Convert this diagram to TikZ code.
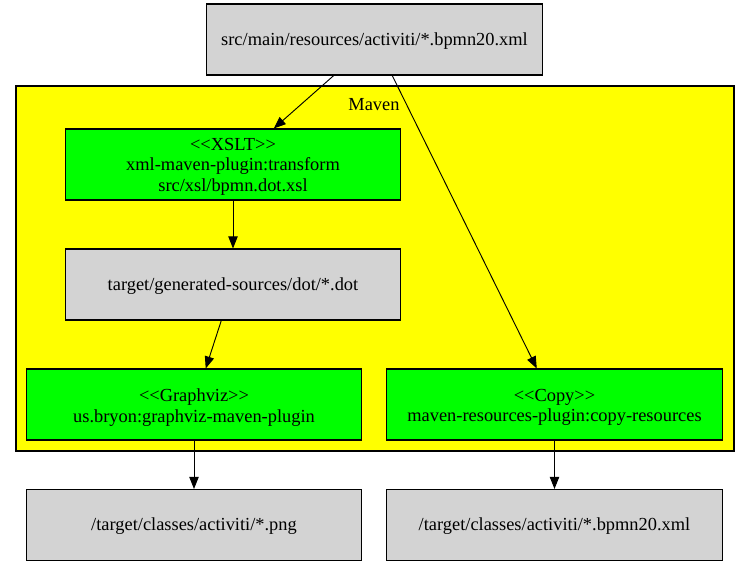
\documentclass[tikz,border=0pt]{standalone}
\usepackage{fontspec}
\setmainfont{Liberation Serif}
\usetikzlibrary{arrows.meta}
\definecolor{gvgray}{HTML}{D3D3D3}
\definecolor{gvgreen}{HTML}{00FF00}
\definecolor{gvyellow}{HTML}{FFFF00}
\begin{document}
\begin{tikzpicture}[x=0.75pt,y=-0.75pt,
  box/.style={draw=black, line width=0.8pt, rectangle, inner sep=0pt,
    minimum width=251.5pt, minimum height=53.25pt, align=center,
    font=\fontsize{13.8}{15.4}\selectfont},
  file/.style={box, fill=gvgray},
  plugin/.style={box, fill=gvgreen},
  cluster/.style={draw=black, line width=0.8pt, fill=gvyellow, rectangle, inner sep=0pt,
    minimum width=538.5pt, minimum height=273.75pt},
  lbl/.style={inner sep=0pt, font=\fontsize{13.8}{15}\selectfont},
  txt/.style={inner sep=0pt, align=center, font=\fontsize{13.8}{15.4}\selectfont},
  arr/.style={-{Triangle[length=9pt,width=7pt]}, line width=0.7pt, black}
]
\useasboundingbox (0,0) rectangle (749,568);
\fill[white] (0,0) rectangle (749,568);
\node[cluster] (maven) at (375,268.5) {};
\node[lbl] (mavenlabel) at (374,105) {Maven};
\node[file] (src) at (374.5,39.5) {};
\node[txt] (srct) at (374.5,41) {src/main/resources/activiti/*.bpmn20.xml};
\node[plugin] (xslt) at (233,164.5) {};
\node[txt] (xsltt) at (233,166.5) {<{}<XSLT>{}>\\xml-maven-plugin:transform\\src/xsl/bpmn.dot.xsl};
\node[file] (dot) at (233,284.5) {};
\node[txt] (dott) at (233,286) {target/generated-sources/dot/*.dot};
\node[plugin] (gv) at (194,404.5) {};
\node[txt] (gvt) at (194,407.5) {<{}<Graphviz>{}>\\us.bryon:graphviz-maven-plugin};
\node[plugin] (copy) at (554.5,404.5) {};
\node[txt] (copyt) at (554.5,407.5) {<{}<Copy>{}>\\maven-resources-plugin:copy-resources};
\node[file] (png) at (194,525) {};
\node[txt] (pngt) at (194,526.5) {/target/classes/activiti/*.png};
\node[file] (out) at (554.5,525) {};
\node[txt] (outt) at (554.5,526.5) {/target/classes/activiti/*.bpmn20.xml};
\draw[arr] (src) -- (xslt);
\draw[arr] (src) -- (copy);
\draw[arr] (xslt) -- (dot);
\draw[arr] (dot) -- (gv);
\draw[arr] (gv) -- (png);
\draw[arr] (copy) -- (out);
\end{tikzpicture}
\end{document}
